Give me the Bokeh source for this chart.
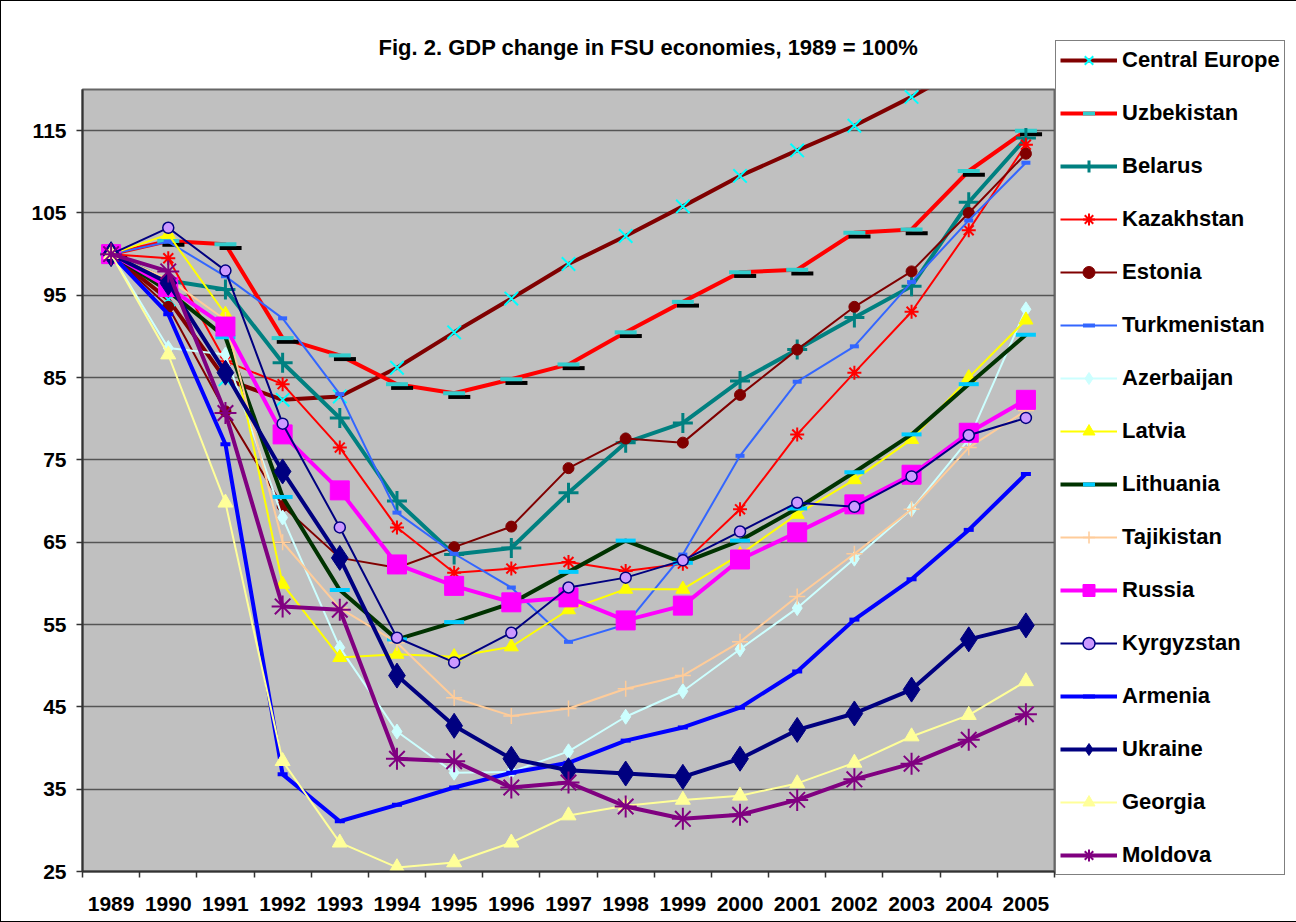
from bokeh.plotting import figure
from bokeh.models import Range1d, FixedTicker, Legend, LegendItem
from bokeh.embed import file_html
from bokeh.resources import INLINE

years = [str(y) for y in range(1989, 2006)]
y_ticks = [25, 35, 45, 55, 65, 75, 85, 95, 105, 115]

central_europe = [100, 94.5, 84.8, 82.3, 82.7, 86.2, 90.5, 94.6, 98.8, 102.2, 105.8, 109.5, 112.6, 115.6, 119.1, 123.0, 127.0]
uzbekistan = [100, 101.6, 101.2, 89.8, 87.7, 84.2, 83.1, 84.8, 86.6, 90.5, 94.2, 97.8, 98.1, 102.6, 103.0, 110.1, 115.0]
belarus = [100, 96.8, 95.7, 86.8, 80.1, 70.0, 63.5, 64.3, 71.0, 77.1, 79.5, 84.6, 88.4, 92.3, 96.1, 106.3, 114.1]
kazakhstan = [100, 99.5, 87.0, 84.2, 76.5, 66.8, 61.3, 61.8, 62.6, 61.5, 62.4, 69.0, 78.1, 85.6, 93.0, 102.9, 113.3]
estonia = [100, 93.6, 80.9, 69.4, 63.1, 61.9, 64.4, 66.9, 74.0, 77.6, 77.1, 82.9, 88.4, 93.6, 97.9, 105.0, 112.2]
turkmenistan = [100, 101.5, 97.3, 92.2, 83.0, 68.6, 63.6, 59.5, 52.9, 55.0, 63.5, 75.5, 84.5, 88.8, 96.6, 104.1, 111.1]
azerbaijan = [100, 88.6, 87.8, 68.0, 52.2, 42.0, 37.0, 37.1, 39.6, 43.8, 46.9, 52.0, 57.0, 63.0, 69.0, 77.5, 93.3]
latvia = [100, 102.4, 92.7, 59.9, 51.0, 51.4, 51.1, 52.3, 56.8, 59.3, 59.3, 63.5, 68.4, 72.6, 77.5, 85.0, 92.0]
lithuania = [100, 95.5, 89.9, 70.5, 59.2, 53.2, 55.3, 57.6, 61.4, 65.2, 62.5, 65.2, 69.1, 73.5, 78.1, 84.2, 90.2]
tajikistan = [100, 97.0, 92.0, 65.0, 57.0, 52.8, 46.1, 43.9, 44.8, 47.2, 48.8, 52.9, 58.4, 63.6, 69.0, 76.5, 81.0]
russia = [100, 96.0, 91.2, 78.1, 71.3, 62.3, 59.7, 57.7, 58.3, 55.5, 57.3, 62.9, 66.2, 69.6, 73.2, 78.3, 82.3]
kyrgyzstan = [100, 103.2, 98.0, 79.4, 66.8, 53.4, 50.4, 54.0, 59.5, 60.7, 62.8, 66.3, 69.8, 69.3, 73.0, 78.0, 80.1]
armenia = [100, 92.7, 76.9, 36.8, 31.1, 33.1, 35.2, 37.0, 38.2, 40.9, 42.5, 44.9, 49.3, 55.6, 60.5, 66.5, 73.3]
ukraine = [100, 96.5, 85.6, 73.6, 63.1, 48.8, 42.7, 38.7, 37.3, 36.9, 36.5, 38.7, 42.2, 44.2, 47.1, 53.2, 54.9]
georgia = [100, 87.8, 69.8, 38.4, 28.5, 25.5, 26.1, 28.5, 31.8, 33.0, 33.7, 34.2, 35.7, 38.2, 41.4, 44.0, 48.1]
moldova = [100, 97.9, 80.7, 57.2, 56.8, 38.7, 38.4, 35.2, 35.8, 32.9, 31.4, 31.9, 33.7, 36.2, 38.1, 41.0, 44.1]

# name, values, line color, line width, marker, marker line color, marker fill, marker size, marker line width
series = [
    ("Central Europe", central_europe, "#800000", 4, "x", "#00FFFF", None, 19, 2),
    ("Uzbekistan", uzbekistan, "#FF0000", 4, "dash", "#33CCCC", None, 22, 4),
    ("Belarus", belarus, "#008080", 4, "cross", "#008080", None, 20, 3),
    ("Kazakhstan", kazakhstan, "#FF0000", 2, "asterisk", "#FF0000", None, 14, 2),
    ("Estonia", estonia, "#800000", 2, "circle", "#800000", "#800000", 11, 1),
    ("Turkmenistan", turkmenistan, "#3366FF", 2, "dash", "#3366FF", None, 9, 4),
    ("Azerbaijan", azerbaijan, "#CCFFFF", 2, "diamond", "#CCFFFF", "#CCFFFF", 15, 1),
    ("Latvia", latvia, "#FFFF00", 2, "triangle", "#FFFF00", "#FFFF00", 14, 1),
    ("Lithuania", lithuania, "#003300", 4, "dash", "#00CCFF", None, 20, 4),
    ("Tajikistan", tajikistan, "#FFCC99", 2, "cross", "#FFCC99", None, 16, 1.5),
    ("Russia", russia, "#FF00FF", 4, "square", "#FF00FF", "#FF00FF", 19, 1),
    ("Kyrgyzstan", kyrgyzstan, "#000080", 2, "circle", "#000080", "#CC99FF", 11, 1.5),
    ("Armenia", armenia, "#0000FF", 4, "dash", "#0000FF", None, 10, 4),
    ("Ukraine", ukraine, "#000080", 4, "diamond", "#000080", "#000080", 25, 1),
    ("Georgia", georgia, "#FFFF99", 2, "triangle", "#FFFF99", "#FFFF99", 15, 1),
    ("Moldova", moldova, "#800080", 4, "asterisk", "#800080", None, 22, 2),
]

FONT = "Liberation Sans"
xs = list(range(len(years)))

p = figure(
    frame_width=972, frame_height=782,
    min_border_left=81, min_border_right=231, min_border_top=88, min_border_bottom=50,
    x_range=Range1d(-0.5, len(years) - 0.5), y_range=Range1d(25, 120),
    output_backend="svg", toolbar_location=None,
    title="Fig. 2. GDP change in FSU economies, 1989 = 100%",
)
p.styles = {"border": "1px solid #000000"}
p.background_fill_color = "#C0C0C0"
p.border_fill_color = "white"
p.outline_line_color = "#666666"
p.outline_line_width = 2

p.title.align = "left"
p.title.offset = 296
p.title.standoff = 60
p.title.text_font = FONT
p.title.text_font_size = "22px"
p.title.text_font_style = "bold"
p.title.text_color = "black"

xa = p.xaxis[0]
xa.ticker = FixedTicker(ticks=xs, minor_ticks=[i - 0.5 for i in range(len(years) + 1)])
xa.major_label_overrides = {i: y for i, y in enumerate(years)}
xa.major_tick_out = 0
xa.major_tick_in = 0
xa.minor_tick_out = 6
xa.minor_tick_in = 0
xa.minor_tick_line_color = "#333333"
xa.minor_tick_line_width = 1.5
xa.axis_line_color = "#333333"
xa.axis_line_width = 2
xa.major_label_standoff = 19
xa.major_label_text_font = FONT
xa.major_label_text_font_size = "21px"
xa.major_label_text_font_style = "bold"
xa.major_label_text_color = "black"

ya = p.yaxis[0]
ya.ticker = FixedTicker(ticks=y_ticks)
ya.major_tick_out = 6
ya.major_tick_in = 0
ya.minor_tick_out = 0
ya.major_tick_line_color = "#333333"
ya.major_tick_line_width = 1.5
ya.axis_line_color = "#333333"
ya.axis_line_width = 2
ya.major_label_standoff = 10
ya.major_label_text_font = FONT
ya.major_label_text_font_size = "21px"
ya.major_label_text_font_style = "bold"
ya.major_label_text_color = "black"

p.xgrid.grid_line_color = None
p.ygrid.ticker = FixedTicker(ticks=y_ticks)
p.ygrid.grid_line_color = "#555555"
p.ygrid.grid_line_width = 1.5

items = []
for name, vals, lc, lw, mk, mlc, mfc, ms, mlw in series:
    lr = p.line(xs, vals, line_color=lc, line_width=lw)
    if name == "Uzbekistan":
        # black shadow of the dash markers
        p.scatter([x + 0.09 for x in xs], [v - 0.45 for v in vals], marker="dash",
                  size=ms, line_color="black", line_width=mlw)
    kw = dict(marker=mk, size=ms, line_color=mlc, line_width=mlw)
    if mfc is None:
        kw["fill_alpha"] = 0
    else:
        kw["fill_color"] = mfc
    sr = p.scatter(xs, vals, **kw)
    items.append(LegendItem(label=name, renderers=[lr, sr]))

legend = Legend(
    items=items,
    location=(1, -4),
    orientation="vertical",
    padding=4,
    margin=0,
    spacing=23,
    glyph_width=57,
    glyph_height=30,
    label_height=30,
    label_standoff=5,
    label_text_font=FONT,
    label_text_font_size="22px",
    label_text_font_style="bold",
    label_text_color="black",
    border_line_color="black",
    border_line_width=1,
    background_fill_color="white",
    background_fill_alpha=1,
)
p.add_layout(legend, "right")

open("out.html", "w").write(file_html(p, INLINE))
